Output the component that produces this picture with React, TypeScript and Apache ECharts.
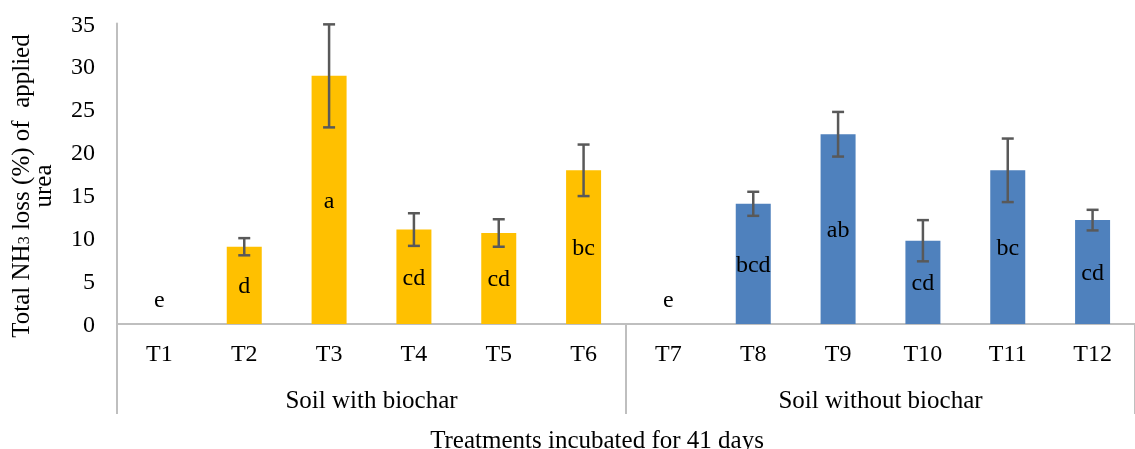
import React, { useEffect, useRef } from "react";
import * as echarts from "echarts";

const categories = ["T1", "T2", "T3", "T4", "T5", "T6", "T7", "T8", "T9", "T10", "T11", "T12"];
const values = [0, 9.0, 28.9, 11.0, 10.6, 17.9, 0, 14.0, 22.1, 9.7, 17.9, 12.1];
const errors = [0, 1.0, 6.0, 1.9, 1.6, 3.0, 0, 1.4, 2.6, 2.4, 3.7, 1.2];
const letters = ["e", "d", "a", "cd", "cd", "bc", "e", "bcd", "ab", "cd", "bc", "cd"];
const groups = ["Soil with biochar", "Soil without biochar"];
const groupOfCategory = [0, 0, 0, 0, 0, 0, 1, 1, 1, 1, 1, 1];
const groupColors = ["#FFC000", "#4F81BD"];
const yTicks = { min: 0, max: 35, interval: 5 };

const FONT = "Liberation Serif, Times New Roman, serif";
const AXIS_GRAY = "#BFBFBF";

export default function App() {
  const ref = useRef<HTMLDivElement>(null);
  useEffect(() => {
    if (!ref.current) return;
    const chart = echarts.init(ref.current, null, { renderer: "svg" });
    const labelBase = { show: true, color: "#000", fontSize: 24, fontFamily: FONT };
    const barData = values.map((v, i) => {
      const item: any = {
        value: v,
        itemStyle: { color: groupColors[groupOfCategory[i]] },
        label: { ...labelBase, position: "inside", formatter: letters[i] },
      };
      if (v === 0) {
        item.label = { ...labelBase, formatter: letters[i], position: "top", distance: 13 };
      }
      return item;
    });
    const errData = values.map((v, i) => [i, v - errors[i], v + errors[i]]);
    chart.setOption({
      animation: false,
      textStyle: { fontFamily: FONT },
      grid: { left: 117, right: -11, top: 23.5, bottom: 125, containLabel: false },
      xAxis: [
        {
          type: "category",
          data: categories,
          position: "bottom",
          axisLine: { show: true, lineStyle: { color: AXIS_GRAY, width: 2 } },
          axisTick: { show: false },
          axisLabel: { color: "#000", fontSize: 24, fontFamily: FONT, margin: 17, interval: 0 },
        },
        {
          type: "category",
          data: groups,
          position: "bottom",
          axisLine: { show: false },
          axisTick: { show: true, length: 90, lineStyle: { color: AXIS_GRAY, width: 2 } },
          axisLabel: { color: "#000", fontSize: 25, fontFamily: FONT, margin: 63, interval: 0 },
        },
      ],
      yAxis: {
        type: "value",
        min: yTicks.min,
        max: yTicks.max,
        interval: yTicks.interval,
        axisLine: { show: true, lineStyle: { color: AXIS_GRAY, width: 2 } },
        axisTick: { show: false },
        splitLine: { show: false },
        axisLabel: { color: "#000", fontSize: 24, fontFamily: FONT, margin: 22 },
      },
      graphic: [
        {
          type: "text",
          x: 597,
          y: 439,
          style: {
            text: "Treatments incubated for 41 days",
            font: `25px ${FONT}`,
            fill: "#000",
            align: "center",
            verticalAlign: "middle",
          },
        },
        {
          type: "text",
          x: 31,
          y: 186,
          rotation: Math.PI / 2,
          style: {
            text: "{a|Total NH}{s|3}{a| loss (%) of  applied}\n{a|urea}",
            font: `25px ${FONT}`,
            fontFamily: FONT,
            fill: "#000",
            align: "center",
            verticalAlign: "middle",
            rich: {
              a: { fontSize: 25, fontFamily: FONT, lineHeight: 22, fill: "#000" },
              s: { fontSize: 16, fontFamily: FONT, lineHeight: 22, verticalAlign: "bottom", fill: "#000", padding: [10, 0, 0, 0] },
            },
          },
        },
      ],
      series: [
        {
          type: "bar",
          xAxisIndex: 0,
          data: barData,
          barWidth: 35,
          label: { ...labelBase, position: "inside" },
        },
        {
          type: "custom",
          xAxisIndex: 0,
          data: errData,
          encode: { x: 0, y: [1, 2] },
          z: 5,
          renderItem: (params: any, api: any) => {
            const i = api.value(0);
            const lo = api.value(1);
            const hi = api.value(2);
            if (hi === lo) return null;
            const top = api.coord([i, hi]);
            const bot = api.coord([i, lo]);
            const cap = 6;
            const style = { stroke: "#595959", lineWidth: 2.5 };
            return {
              type: "group",
              children: [
                { type: "line", shape: { x1: top[0], y1: top[1], x2: bot[0], y2: bot[1] }, style },
                { type: "line", shape: { x1: top[0] - cap, y1: top[1], x2: top[0] + cap, y2: top[1] }, style },
                { type: "line", shape: { x1: bot[0] - cap, y1: bot[1], x2: bot[0] + cap, y2: bot[1] }, style },
              ],
            };
          },
        },
      ],
    });
    return () => chart.dispose();
  }, []);
  return <div ref={ref} style={{ position: "fixed", left: 0, top: 0, width: 1135, height: 449 }} />;
}
